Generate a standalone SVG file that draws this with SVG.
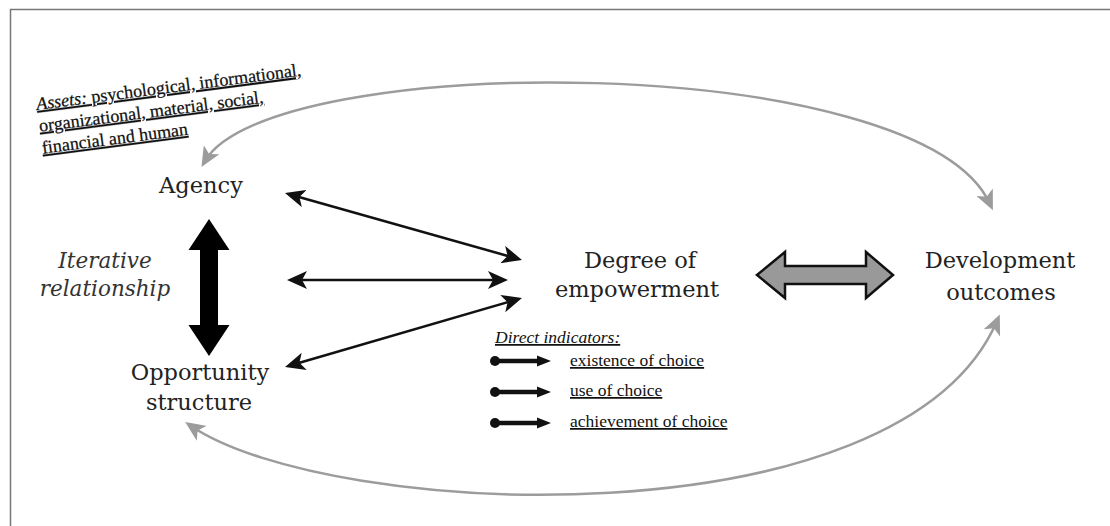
<svg xmlns="http://www.w3.org/2000/svg" width="1110" height="526" viewBox="0 0 1110 526">
  <style>
    .label { font-family: "DejaVu Serif", "Liberation Serif", serif; font-size: 22.5px; fill: #222; text-anchor: middle; }
    .ital { font-family: "DejaVu Serif", "Liberation Serif", serif; font-size: 21.5px; font-style: italic; fill: #333; text-anchor: middle; }
    .note { font-family: "Liberation Serif", "Times New Roman", serif; font-size: 18px; fill: #111; text-decoration: underline; stroke: #111; stroke-width: 0.25; }
    .ind { font-family: "Liberation Serif", "Times New Roman", serif; font-size: 17.5px; fill: #111; text-decoration: underline; }
    .link { fill: none; stroke: #111; stroke-width: 2.5; }
    .loop { fill: none; stroke: #9c9c9c; stroke-width: 2.5; }
    .frame { fill: none; stroke: #777; stroke-width: 1.5; }
  </style>
  <defs>
    <marker id="head-black" markerUnits="userSpaceOnUse" markerWidth="22" markerHeight="18" refX="12" refY="9" orient="auto-start-reverse">
      <path d="M20,9 L0,0 L5,9 L0,18 Z" fill="#111"/>
    </marker>
    <marker id="head-gray" markerUnits="userSpaceOnUse" markerWidth="22" markerHeight="18" refX="13" refY="9" orient="auto-start-reverse">
      <path d="M20,9 L0,0 L5,9 L0,18 Z" fill="#9c9c9c"/>
    </marker>
    <!-- small dot-and-arrow bullet for the indicator list -->
    <g id="bullet">
      <circle cx="0" cy="0" r="5" fill="#111"/>
      <line x1="0" y1="0" x2="44" y2="0" stroke="#111" stroke-width="4.5"/>
      <path d="M42,-5.5 L56,0 L42,5.5 Z" fill="#111"/>
    </g>
  </defs>

  <rect width="1110" height="526" fill="#fff"/>
  <path class="frame" d="M10.5,526 V9.5 H1110"/>

  <g id="connectors">
    <!-- outer feedback loops -->
    <path class="loop" d="M205,161 C270,50 920,50 990,204" marker-start="url(#head-gray)" marker-end="url(#head-gray)"/>
    <path class="loop" d="M191,426 C330,520 900,545 997,321" marker-start="url(#head-gray)" marker-end="url(#head-gray)"/>
    <!-- agency / opportunity structure to degree of empowerment -->
    <line class="link" x1="292.7" y1="195.2" x2="514.3" y2="257.8" marker-start="url(#head-black)" marker-end="url(#head-black)"/>
    <line class="link" x1="295" y1="280" x2="500" y2="280" stroke-width="3" marker-start="url(#head-black)" marker-end="url(#head-black)"/>
    <line class="link" x1="292.7" y1="364.8" x2="514.3" y2="300.2" marker-start="url(#head-black)" marker-end="url(#head-black)"/>
    <!-- iterative relationship -->
    <polygon points="209,219 229.5,250 218,250 218,325 229.5,325 209,356 188.5,325 200,325 200,250 188.5,250" fill="#000"/>
    <!-- empowerment <-> outcomes -->
    <polygon points="757,275 785,252 785,266 866,266 866,252 893,275 866,298 866,284 785,284 785,298" fill="#999" stroke="#111" stroke-width="2.5" stroke-linejoin="miter"/>
  </g>

  <g id="node-assets" transform="translate(37,110) rotate(-7.4)">
    <text class="note" x="0" y="0"><tspan font-style="italic">Assets:</tspan> psychological, informational,</text>
    <text class="note" x="0" y="22">organizational, material, social,</text>
    <text class="note" x="0" y="44">financial and human</text>
  </g>

  <g id="node-agency">
    <text class="label" x="201" y="193">Agency</text>
  </g>

  <g id="node-iterative">
    <text class="ital" x="105" y="268">Iterative</text>
    <text class="ital" x="105" y="296">relationship</text>
  </g>

  <g id="node-opportunity">
    <text class="label" x="200" y="380">Opportunity</text>
    <text class="label" x="199" y="410">structure</text>
  </g>

  <g id="node-degree">
    <text class="label" x="640" y="268">Degree of</text>
    <text class="label" x="637" y="297">empowerment</text>
  </g>

  <g id="node-indicators">
    <text class="ind" x="495" y="343" font-style="italic">Direct indicators:</text>
    <use href="#bullet" x="495" y="361"/>
    <text class="ind" x="570" y="366">existence of choice</text>
    <use href="#bullet" x="495" y="392"/>
    <text class="ind" x="570" y="396">use of choice</text>
    <use href="#bullet" x="495" y="423"/>
    <text class="ind" x="570" y="427">achievement of choice</text>
  </g>

  <g id="node-development">
    <text class="label" x="1000" y="268">Development</text>
    <text class="label" x="1001" y="300">outcomes</text>
  </g>
</svg>
